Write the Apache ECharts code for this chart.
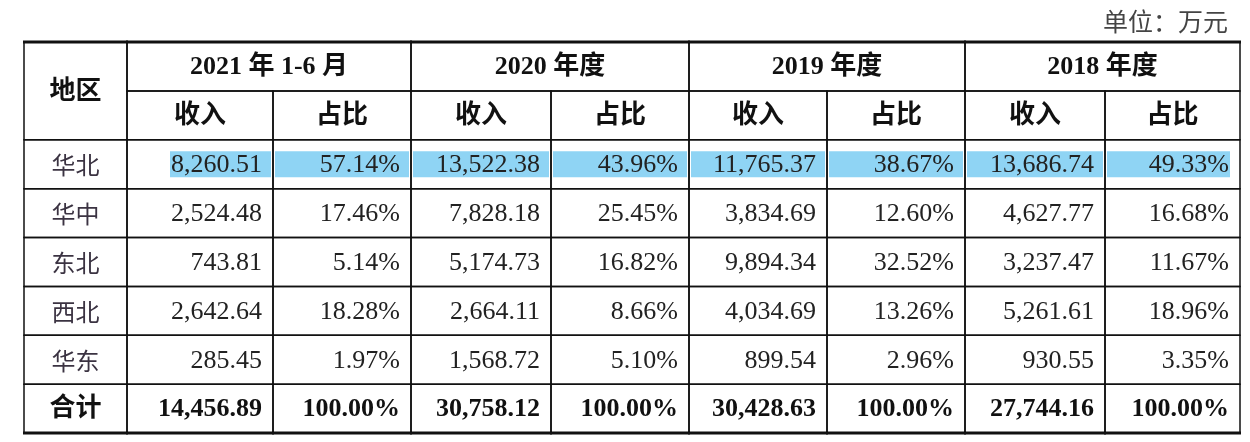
<!DOCTYPE html>
<html>
<head>
<meta charset="utf-8">
<title>分地区收入</title>
<script src="https://cdn.jsdelivr.net/npm/echarts@6/dist/echarts.min.js"></script>
<style>
html, body { margin: 0; padding: 0; background: #fff; }
#regionTable { width: 1250px; height: 442px; }
</style>
</head>
<body>
<div id="regionTable"></div>
<script>
// ---- 数据 ----
var regions = ['华北', '华中', '东北', '西北', '华东'];
var periods = ['2021 年 1-6 月', '2020 年度', '2019 年度', '2018 年度'];
var subHeads = ['收入', '占比'];

var income2021 = [8260.51, 2524.48, 743.81, 2642.64, 285.45];
var share2021 = [57.14, 17.46, 5.14, 18.28, 1.97];
var income2020 = [13522.38, 7828.18, 5174.73, 2664.11, 1568.72];
var share2020 = [43.96, 25.45, 16.82, 8.66, 5.10];
var income2019 = [11765.37, 3834.69, 9894.34, 4034.69, 899.54];
var share2019 = [38.67, 12.60, 32.52, 13.26, 2.96];
var income2018 = [13686.74, 4627.77, 3237.47, 5261.61, 930.55];
var share2018 = [49.33, 16.68, 11.67, 18.96, 3.35];

var totalIncome = [14456.89, 30758.12, 30428.63, 27744.16];
var totalShare = [100, 100, 100, 100];
var highlightRegion = '华北';

var incomes = [income2021, income2020, income2019, income2018];
var shares = [share2021, share2020, share2019, share2018];

// ---- 版式 ----
var colWidths = [103, 146, 138, 140, 138, 138, 138, 140, 135];
var colEdges = [0];
colWidths.forEach(function (w, i) { colEdges.push(colEdges[i] + w); });
var rowCount = regions.length + 3; // 两行表头 + 地区 + 合计

var serif = "'Liberation Serif', 'Noto Sans CJK SC', serif";
var cjk = "'Noto Sans CJK SC', sans-serif";

function money(v) { return echarts.format.addCommas(v.toFixed(2)); }
function pct(v) { return v.toFixed(2) + '%'; }

// 生成单元格
var cells = [];
function addCell(c0, c1, r0, r1, text, kind, opts) {
  cells.push(Object.assign({
    x0: colEdges[c0], x1: colEdges[c1], y0: r0, y1: r1,
    col: c0, text: text, kind: kind
  }, opts || {}));
}
addCell(0, 1, 0, 2, '地区', 'head');
periods.forEach(function (p, i) {
  addCell(1 + i * 2, 3 + i * 2, 0, 1, p, 'head');
  subHeads.forEach(function (s, j) {
    addCell(1 + i * 2 + j, 2 + i * 2 + j, 1, 2, s, 'head');
  });
});
regions.forEach(function (r, k) {
  var hl = r === highlightRegion;
  addCell(0, 1, 2 + k, 3 + k, r, 'region');
  periods.forEach(function (p, i) {
    addCell(1 + i * 2, 2 + i * 2, 2 + k, 3 + k, money(incomes[i][k]), 'num', { hl: hl });
    addCell(2 + i * 2, 3 + i * 2, 2 + k, 3 + k, pct(shares[i][k]), 'num', { hl: hl });
  });
});
addCell(0, 1, rowCount - 1, rowCount, '合计', 'head');
periods.forEach(function (p, i) {
  addCell(1 + i * 2, 2 + i * 2, rowCount - 1, rowCount, money(totalIncome[i]), 'total');
  addCell(2 + i * 2, 3 + i * 2, rowCount - 1, rowCount, pct(totalShare[i]), 'total');
});

var measureCtx = document.createElement('canvas').getContext('2d');
function textWidth(text, font) {
  measureCtx.font = font;
  return measureCtx.measureText(text).width;
}

function fontOf(kind) {
  if (kind === 'head') return 'bold 26px ' + serif;
  if (kind === 'total') return 'bold 26px ' + serif;
  if (kind === 'region') return 'normal 24px ' + cjk;
  return 'normal 26px ' + serif;
}

function renderCell(params, api) {
  var c = cells[params.dataIndex];
  var p0 = api.coord([c.x0, c.y0]);
  var p1 = api.coord([c.x1, c.y1]);
  var midY = (p0[1] + p1[1]) / 2;
  var font = fontOf(c.kind);
  var alignRight = c.kind === 'num' || c.kind === 'total';
  var tx = alignRight ? p1[0] - 11 : (p0[0] + p1[0]) / 2;
  var children = [];

  if (c.hl) {
    var w = textWidth(c.text, font);
    var hx0 = p0[0] + 2, hx1 = p1[0] - 2;
    if (c.col === 1) hx0 = tx - w - 1;
    if (c.col === colWidths.length - 1) hx1 = tx + 1;
    children.push({
      type: 'rect',
      shape: { x: hx0, y: midY - 13, width: hx1 - hx0, height: 26 },
      style: { fill: '#8fd4f4' }
    });
  }
  children.push({
    type: 'rect',
    shape: { x: p0[0], y: p0[1], width: p1[0] - p0[0], height: p1[1] - p0[1] },
    style: { fill: 'none', stroke: '#111', lineWidth: 1.5 }
  });
  // 上下粗线
  if (c.y0 === 0) {
    children.push({ type: 'line', shape: { x1: p0[0] - 1, y1: p0[1], x2: p1[0] + 1, y2: p0[1] },
      style: { stroke: '#111', lineWidth: 3 } });
  }
  if (c.y1 === rowCount) {
    children.push({ type: 'line', shape: { x1: p0[0] - 1, y1: p1[1], x2: p1[0] + 1, y2: p1[1] },
      style: { stroke: '#111', lineWidth: 3 } });
  }
  children.push({
    type: 'text',
    style: {
      text: c.text, x: tx, y: midY + 1,
      align: alignRight ? 'right' : 'center', verticalAlign: 'middle',
      font: font,
      fill: c.kind === 'region' ? '#3b3342' : (c.kind === 'num' ? '#222' : '#111')
    }
  });
  return { type: 'group', children: children };
}

var tableChart = echarts.init(document.getElementById('regionTable'));
tableChart.setOption({
  animation: false,
  title: {
    text: '单位：万元',
    right: 17,
    top: 4,
    textStyle: { fontSize: 25, fontWeight: 'normal', color: '#444', fontFamily: cjk }
  },
  grid: { left: 24, right: 10, top: 42, bottom: 9 },
  xAxis: { type: 'value', min: 0, max: colEdges[colEdges.length - 1], show: false },
  yAxis: { type: 'value', min: 0, max: rowCount, inverse: true, show: false },
  series: [{
    type: 'custom',
    renderItem: renderCell,
    clip: false,
    encode: { x: [0, 1], y: [2, 3] },
    data: cells.map(function (c) { return [c.x0, c.x1, c.y0, c.y1]; })
  }]
});
window.addEventListener('resize', function () { tableChart.resize(); });
</script>
</body>
</html>
